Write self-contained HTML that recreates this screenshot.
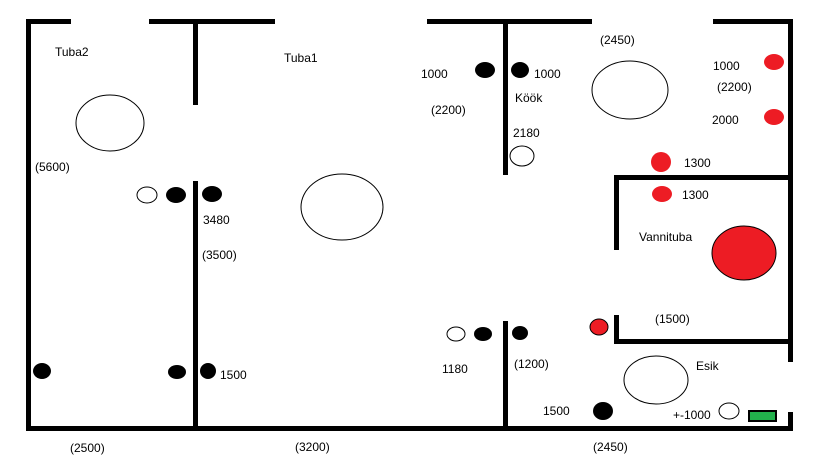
<!DOCTYPE html>
<html><head><meta charset="utf-8"><style>
html,body{margin:0;padding:0;background:#fff;}
svg{display:block;}
text{font-family:"Liberation Sans",sans-serif;font-size:12px;fill:#000;}
</style></head><body>
<svg width="819" height="460" viewBox="0 0 819 460" xmlns="http://www.w3.org/2000/svg">
<g fill="#000">
<!-- outer walls -->
<rect x="26" y="19" width="5" height="412"/>
<rect x="26" y="19" width="45" height="5"/>
<rect x="149" y="19" width="126" height="5"/>
<rect x="427" y="19" width="165" height="5"/>
<rect x="713" y="19" width="80" height="5"/>
<rect x="788" y="19" width="5" height="343"/>
<rect x="788" y="412" width="5" height="19"/>
<rect x="26" y="426" width="767" height="5"/>
<!-- interior -->
<rect x="193" y="19" width="5" height="86"/>
<rect x="193" y="181" width="5" height="250"/>
<rect x="503" y="19" width="5" height="156"/>
<rect x="503" y="321" width="5" height="110"/>
<rect x="614" y="175" width="179" height="5"/>
<rect x="614" y="175" width="5" height="75"/>
<rect x="614" y="315" width="5" height="29"/>
<rect x="614" y="339" width="179" height="5"/>
</g>
<g stroke="#000" stroke-width="1" fill="#fff">
<ellipse cx="110" cy="123" rx="34" ry="28"/>
<ellipse cx="342" cy="207" rx="41" ry="33"/>
<ellipse cx="147" cy="195" rx="10" ry="8"/>
<ellipse cx="630" cy="90" rx="38" ry="29"/>
<ellipse cx="522" cy="156" rx="12" ry="10"/>
<ellipse cx="456" cy="334" rx="9" ry="7"/>
<ellipse cx="656" cy="380" rx="32" ry="24"/>
<ellipse cx="729" cy="411" rx="10" ry="8"/>
</g>
<g fill="#000">
<ellipse cx="176" cy="195" rx="10" ry="8"/>
<ellipse cx="212" cy="194" rx="10" ry="8"/>
<ellipse cx="42" cy="371" rx="9" ry="8"/>
<ellipse cx="177" cy="372" rx="9" ry="7"/>
<ellipse cx="208" cy="371" rx="8" ry="8"/>
<ellipse cx="485" cy="70" rx="10" ry="8"/>
<ellipse cx="520" cy="70" rx="9" ry="8"/>
<ellipse cx="483" cy="334" rx="9" ry="7"/>
<ellipse cx="520" cy="333" rx="8" ry="7"/>
<ellipse cx="603" cy="411" rx="10" ry="9"/>
</g>
<g fill="#ed1c24">
<ellipse cx="774" cy="62" rx="10" ry="8"/>
<ellipse cx="774" cy="117" rx="10" ry="8"/>
<ellipse cx="661" cy="162" rx="10" ry="10"/>
<ellipse cx="662" cy="194" rx="10" ry="8"/>
<ellipse cx="744" cy="253" rx="32" ry="27" stroke="#000" stroke-width="1"/>
<ellipse cx="599" cy="327" rx="9" ry="8" stroke="#000" stroke-width="1"/>
</g>
<rect x="749" y="411" width="27" height="10" fill="#22b14c" stroke="#000" stroke-width="2"/>
<text x="55" y="56">Tuba2</text>
<text x="284" y="62">Tuba1</text>
<text x="35" y="171">(5600)</text>
<text x="203" y="224">3480</text>
<text x="202" y="259">(3500)</text>
<text x="220" y="379">1500</text>
<text x="70" y="452">(2500)</text>
<text x="295" y="451">(3200)</text>
<text x="421" y="78">1000</text>
<text x="534" y="78">1000</text>
<text x="515" y="102">Köök</text>
<text x="431" y="114">(2200)</text>
<text x="513" y="137">2180</text>
<text x="600" y="44">(2450)</text>
<text x="713" y="70">1000</text>
<text x="717" y="91">(2200)</text>
<text x="712" y="124">2000</text>
<text x="684" y="167">1300</text>
<text x="682" y="199">1300</text>
<text x="639" y="241">Vannituba</text>
<text x="655" y="323">(1500)</text>
<text x="442" y="373">1180</text>
<text x="514" y="368">(1200)</text>
<text x="696" y="370">Esik</text>
<text x="543" y="415">1500</text>
<text x="673" y="419">+-1000</text>
<text x="593" y="451">(2450)</text>
</svg>
</body></html>
